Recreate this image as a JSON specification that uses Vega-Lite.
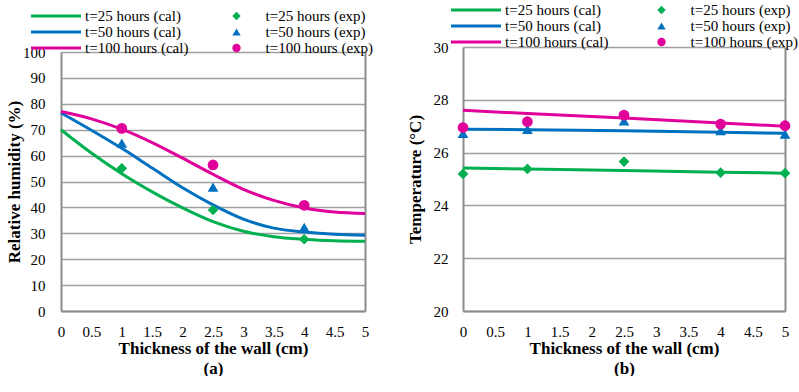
{
  "$schema": "https://vega.github.io/schema/vega-lite/v6.json",
  "autosize": {"type": "pad"},
  "padding": {"left": 5, "top": 2, "right": 0, "bottom": 0},
  "bounds": "flush",
  "spacing": 98,
  "datasets": {
    "calA": [
      {"x": 0, "rh": 70, "cal": "t=25 hours (cal)"},
      {"x": 0.5, "rh": 61, "cal": "t=25 hours (cal)"},
      {"x": 1, "rh": 53, "cal": "t=25 hours (cal)"},
      {"x": 1.5, "rh": 46, "cal": "t=25 hours (cal)"},
      {"x": 2, "rh": 39.8, "cal": "t=25 hours (cal)"},
      {"x": 2.5, "rh": 34.5, "cal": "t=25 hours (cal)"},
      {"x": 3, "rh": 30.8, "cal": "t=25 hours (cal)"},
      {"x": 3.5, "rh": 28.7, "cal": "t=25 hours (cal)"},
      {"x": 4, "rh": 27.7, "cal": "t=25 hours (cal)"},
      {"x": 4.5, "rh": 27.1, "cal": "t=25 hours (cal)"},
      {"x": 5, "rh": 26.9, "cal": "t=25 hours (cal)"},
      {"x": 0, "rh": 76.5, "cal": "t=50 hours (cal)"},
      {"x": 0.5, "rh": 69.8, "cal": "t=50 hours (cal)"},
      {"x": 1, "rh": 62.8, "cal": "t=50 hours (cal)"},
      {"x": 1.5, "rh": 55.2, "cal": "t=50 hours (cal)"},
      {"x": 2, "rh": 47.6, "cal": "t=50 hours (cal)"},
      {"x": 2.5, "rh": 41, "cal": "t=50 hours (cal)"},
      {"x": 3, "rh": 35.5, "cal": "t=50 hours (cal)"},
      {"x": 3.5, "rh": 32, "cal": "t=50 hours (cal)"},
      {"x": 4, "rh": 30.5, "cal": "t=50 hours (cal)"},
      {"x": 4.5, "rh": 29.6, "cal": "t=50 hours (cal)"},
      {"x": 5, "rh": 29.2, "cal": "t=50 hours (cal)"},
      {"x": 0, "rh": 77, "cal": "t=100 hours (cal)"},
      {"x": 0.5, "rh": 74.2, "cal": "t=100 hours (cal)"},
      {"x": 1, "rh": 70.2, "cal": "t=100 hours (cal)"},
      {"x": 1.5, "rh": 65, "cal": "t=100 hours (cal)"},
      {"x": 2, "rh": 59, "cal": "t=100 hours (cal)"},
      {"x": 2.5, "rh": 52.8, "cal": "t=100 hours (cal)"},
      {"x": 3, "rh": 47, "cal": "t=100 hours (cal)"},
      {"x": 3.5, "rh": 42.7, "cal": "t=100 hours (cal)"},
      {"x": 4, "rh": 39.8, "cal": "t=100 hours (cal)"},
      {"x": 4.5, "rh": 38.2, "cal": "t=100 hours (cal)"},
      {"x": 5, "rh": 37.6, "cal": "t=100 hours (cal)"}
    ],
    "expA": [
      {"x": 1, "rh": 55.1, "exp": "t=25 hours (exp)"},
      {"x": 2.5, "rh": 39, "exp": "t=25 hours (exp)"},
      {"x": 4, "rh": 27.7, "exp": "t=25 hours (exp)"},
      {"x": 1, "rh": 64.8, "exp": "t=50 hours (exp)"},
      {"x": 2.5, "rh": 47.8, "exp": "t=50 hours (exp)"},
      {"x": 4, "rh": 32.3, "exp": "t=50 hours (exp)"},
      {"x": 1, "rh": 70.5, "exp": "t=100 hours (exp)"},
      {"x": 2.5, "rh": 56.4, "exp": "t=100 hours (exp)"},
      {"x": 4, "rh": 40.8, "exp": "t=100 hours (exp)"}
    ],
    "calB": [
      {"x": 0, "t": 25.42, "cal": "t=25 hours (cal)"},
      {"x": 1, "t": 25.38, "cal": "t=25 hours (cal)"},
      {"x": 2.5, "t": 25.32, "cal": "t=25 hours (cal)"},
      {"x": 4, "t": 25.26, "cal": "t=25 hours (cal)"},
      {"x": 5, "t": 25.22, "cal": "t=25 hours (cal)"},
      {"x": 0, "t": 26.88, "cal": "t=50 hours (cal)"},
      {"x": 1, "t": 26.87, "cal": "t=50 hours (cal)"},
      {"x": 2.5, "t": 26.83, "cal": "t=50 hours (cal)"},
      {"x": 4, "t": 26.77, "cal": "t=50 hours (cal)"},
      {"x": 5, "t": 26.73, "cal": "t=50 hours (cal)"},
      {"x": 0, "t": 27.6, "cal": "t=100 hours (cal)"},
      {"x": 1, "t": 27.48, "cal": "t=100 hours (cal)"},
      {"x": 2.5, "t": 27.31, "cal": "t=100 hours (cal)"},
      {"x": 4, "t": 27.12, "cal": "t=100 hours (cal)"},
      {"x": 5, "t": 27.0, "cal": "t=100 hours (cal)"}
    ],
    "expB": [
      {"x": 0, "t": 25.19, "exp": "t=25 hours (exp)"},
      {"x": 1, "t": 25.38, "exp": "t=25 hours (exp)"},
      {"x": 2.5, "t": 25.66, "exp": "t=25 hours (exp)"},
      {"x": 4, "t": 25.24, "exp": "t=25 hours (exp)"},
      {"x": 5, "t": 25.22, "exp": "t=25 hours (exp)"},
      {"x": 0, "t": 26.73, "exp": "t=50 hours (exp)"},
      {"x": 1, "t": 26.88, "exp": "t=50 hours (exp)"},
      {"x": 2.5, "t": 27.2, "exp": "t=50 hours (exp)"},
      {"x": 4, "t": 26.83, "exp": "t=50 hours (exp)"},
      {"x": 5, "t": 26.7, "exp": "t=50 hours (exp)"},
      {"x": 0, "t": 26.95, "exp": "t=100 hours (exp)"},
      {"x": 1, "t": 27.17, "exp": "t=100 hours (exp)"},
      {"x": 2.5, "t": 27.42, "exp": "t=100 hours (exp)"},
      {"x": 4, "t": 27.08, "exp": "t=100 hours (exp)"},
      {"x": 5, "t": 27.02, "exp": "t=100 hours (exp)"}
    ]
  },
  "config": {
    "font": "Liberation Serif",
    "view": {"stroke": null},
    "axis": {
      "labelFont": "Liberation Serif",
      "labelFontSize": 15,
      "labelColor": "#000000",
      "labelOverlap": false,
      "labelFlush": false,
      "titleFont": "Liberation Serif",
      "titleFontSize": 17,
      "titleFontWeight": "bold",
      "titleColor": "#000000",
      "domainColor": "#8c8c8c",
      "domainWidth": 2,
      "gridColor": "#a0a0a0",
      "gridWidth": 1.5,
      "ticks": false
    },
    "legend": {
      "labelFont": "Liberation Serif",
      "labelFontSize": 15,
      "labelColor": "#000000",
      "padding": 0,
      "rowPadding": 0
    }
  },
  "resolve": {
    "scale": {"stroke": "independent", "fill": "independent", "shape": "independent"},
    "legend": {"stroke": "independent", "fill": "independent", "shape": "independent"}
  },
  "hconcat": [
    {
      "width": 304,
      "height": 264,
      "encoding": {
        "x": {"field": "x", "type": "quantitative", "scale": {"domain": [0, 5], "nice": false},
          "axis": {"values": [0, 0.5, 1, 1.5, 2, 2.5, 3, 3.5, 4, 4.5, 5], "format": "~g", "grid": false, "labelOverlap": false, "labelPadding": 13, "titlePadding": 1, "titleLineHeight": 20, "title": ["Thickness of the wall (cm)", "(a)"]}}
      },
      "layer": [
        {
          "data": {"name": "calA"},
          "mark": {"type": "line", "interpolate": "monotone", "strokeWidth": 3},
          "encoding": {
            "y": {"field": "rh", "type": "quantitative", "scale": {"domain": [0, 100], "nice": false, "range": [264, 5]},
              "axis": {"values": [0, 10, 20, 30, 40, 50, 60, 70, 80, 90, 100], "labelPadding": 16, "titlePadding": -1, "title": "Relative humidity (%)"}},
            "stroke": {"field": "cal", "type": "nominal",
              "scale": {"domain": ["t=25 hours (cal)", "t=50 hours (cal)", "t=100 hours (cal)"], "range": ["#00b050", "#0070c0", "#e0009a"]},
              "legend": {"title": null, "orient": "none", "direction": "vertical", "legendX": -12.5, "legendY": -38.5, "symbolType": "M-10,0H10", "symbolSize": 25, "symbolStrokeWidth": 3, "labelOffset": 21.5}}
          }
        },
        {
          "data": {"name": "expA"},
          "mark": {"type": "point", "filled": true, "size": 115, "opacity": 1},
          "encoding": {
            "y": {"field": "rh", "type": "quantitative",
              "axis": {"orient": "right", "labels": false, "grid": false, "title": null}},
            "fill": {"field": "exp", "type": "nominal",
              "scale": {"domain": ["t=25 hours (exp)", "t=50 hours (exp)", "t=100 hours (exp)"], "range": ["#00b050", "#0070c0", "#e0009a"]},
              "legend": {"title": null, "orient": "none", "direction": "vertical", "legendX": 168, "legendY": -38.5, "symbolSize": 70, "labelOffset": 21.5}},
            "shape": {"field": "exp", "type": "nominal",
              "scale": {"domain": ["t=25 hours (exp)", "t=50 hours (exp)", "t=100 hours (exp)"], "range": ["diamond", "triangle-up", "circle"]},
              "legend": {"title": null, "orient": "none", "direction": "vertical", "legendX": 168, "legendY": -38.5, "symbolSize": 70, "labelOffset": 21.5}}
          }
        }
      ],
      "resolve": {"axis": {"y": "independent"}}
    },
    {
      "width": 322,
      "height": 264,
      "encoding": {
        "x": {"field": "x", "type": "quantitative", "scale": {"domain": [0, 5], "nice": false},
          "axis": {"values": [0, 0.5, 1, 1.5, 2, 2.5, 3, 3.5, 4, 4.5, 5], "format": "~g", "grid": false, "labelOverlap": false, "labelPadding": 13, "titlePadding": 1, "titleLineHeight": 20, "title": ["Thickness of the wall (cm)", "(b)"]}}
      },
      "layer": [
        {
          "data": {"name": "calB"},
          "mark": {"type": "line", "strokeWidth": 3},
          "encoding": {
            "y": {"field": "t", "type": "quantitative", "scale": {"domain": [20, 30], "nice": false},
              "axis": {"values": [20, 22, 24, 26, 28, 30], "labelPadding": 15, "titlePadding": 9, "title": "Temperature (°C)"}},
            "stroke": {"field": "cal", "type": "nominal",
              "scale": {"domain": ["t=25 hours (cal)", "t=50 hours (cal)", "t=100 hours (cal)"], "range": ["#00b050", "#0070c0", "#e0009a"]},
              "legend": {"title": null, "orient": "none", "direction": "vertical", "legendX": 5.5, "legendY": -44.5, "symbolType": "M-10,0H10", "symbolSize": 25, "symbolStrokeWidth": 3, "labelOffset": 21.5}}
          }
        },
        {
          "data": {"name": "expB"},
          "mark": {"type": "point", "filled": true, "size": 115, "opacity": 1},
          "encoding": {
            "y": {"field": "t", "type": "quantitative",
              "axis": {"orient": "right", "labels": false, "grid": false, "title": null}},
            "fill": {"field": "exp", "type": "nominal",
              "scale": {"domain": ["t=25 hours (exp)", "t=50 hours (exp)", "t=100 hours (exp)"], "range": ["#00b050", "#0070c0", "#e0009a"]},
              "legend": {"title": null, "orient": "none", "direction": "vertical", "legendX": 191, "legendY": -44.5, "symbolSize": 70, "labelOffset": 21.5}},
            "shape": {"field": "exp", "type": "nominal",
              "scale": {"domain": ["t=25 hours (exp)", "t=50 hours (exp)", "t=100 hours (exp)"], "range": ["diamond", "triangle-up", "circle"]},
              "legend": {"title": null, "orient": "none", "direction": "vertical", "legendX": 191, "legendY": -44.5, "symbolSize": 70, "labelOffset": 21.5}}
          }
        }
      ],
      "resolve": {"axis": {"y": "independent"}}
    }
  ]
}
